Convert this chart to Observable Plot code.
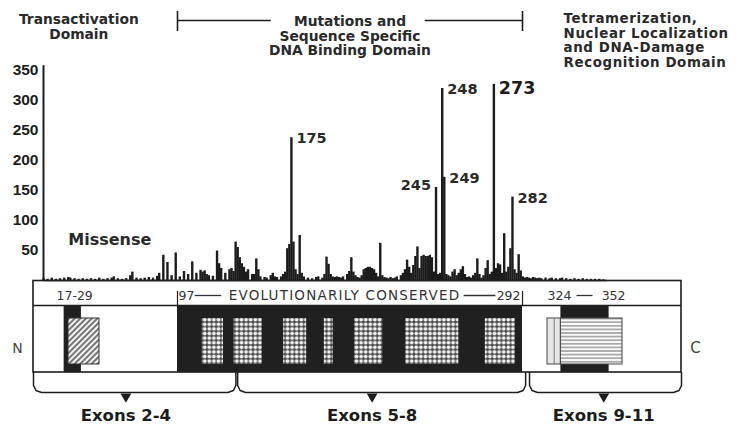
<!DOCTYPE html>
<html><head><meta charset="utf-8">
<script src="https://cdn.jsdelivr.net/npm/d3@7"></script>
<script src="https://cdn.jsdelivr.net/npm/@observablehq/plot@0.6"></script>
<style>
html,body{margin:0;padding:0;background:#fff;}
#chart{position:relative;width:738px;height:427px;overflow:hidden;}
#chart svg{position:absolute;left:0;top:0;}
</style></head><body><div id="chart"></div>
<script>
// ---------- DATA ----------
// missense mutations per codon: [codon, count]
const missense = [
[55,3],[57,2],[59,4],[61,2],[63,3],[65,4],[67,5],[68,4],[70,3],[72,2],[74,3],[76,2],[78,3],[80,2],[82,4],[84,2],[86,3],[88,4],[89,6],[91,3],[93,2],[95,3],
[97,8],[98,14],[100,4],[102,3],[104,4],[106,5],[108,4],[110,7],[111,12],[113,42],[115,30],[117,8],[119,46],[121,6],[123,15],[125,10],[127,31],[129,12],
[131,17],[132,14],[133,16],[134,10],[135,8],[137,7],[139,49],[140,28],[141,20],[143,12],[145,18],[146,20],[147,15],[148,64],[149,55],[150,38],[151,28],[152,22],[153,14],[154,18],
[156,10],[157,10],[158,36],[159,18],[160,6],[162,5],[163,4],[165,8],[166,12],[167,6],[168,5],[170,6],[171,10],[172,14],[173,53],[174,60],[175,238],[176,64],[177,18],[178,10],[179,75],
[180,12],[181,6],[183,4],[185,3],[187,5],[188,6],[190,4],[191,10],[192,39],[193,27],[194,10],[195,6],[196,5],[197,6],[198,5],[199,4],[200,6],[202,10],[203,15],[204,38],[205,14],
[206,8],[207,5],[208,4],[209,8],[210,18],[211,20],[212,22],[213,22],[214,20],[215,18],[216,12],[217,6],[218,62],[219,8],[220,5],[221,4],[222,3],[223,5],[224,3],[225,4],[226,6],
[228,8],[229,12],[230,18],[231,34],[232,22],[233,12],[234,25],[235,40],[236,56],[237,20],[238,40],[239,42],[240,40],[241,40],[242,42],[243,38],[244,14],[245,155],[246,10],[247,12],
[248,320],[249,172],[250,10],[251,8],[252,6],[253,14],[254,18],[255,8],[256,12],[257,18],[258,23],[259,10],[260,5],[261,6],[262,4],[263,8],[264,12],[265,36],[266,10],[267,4],[268,8],
[269,20],[270,33],[271,10],[272,14],[273,327],[274,20],[275,28],[276,26],[277,12],[278,78],[279,14],[280,22],[281,53],[282,139],[283,18],[284,12],[285,43],[286,16],[287,6],[288,4],
[289,5],[290,4],[291,3],[292,5],[293,4],[294,3],[295,4],[296,3],[298,4],[300,3],[301,4],[303,3],[305,3],[306,4],[308,3],[310,2],[312,3],[314,2],[316,3],[318,2],[320,2],[322,2],[324,2],[326,1]
];
const yTicks = [50, 100, 150, 200, 250, 300, 350];
const hotspotsRight = [175, 248, 249, 282];
const hotspotsLeft = [245];
const hotspotMajor = [273];

// protein domain diagram (codon ranges)
const protein = [{start: 1, end: 393}];
const conservedSpan = [{start: 97, end: 292}];
const conservedBlocks = [[111,123],[129,145],[157,170],[180,185],[197,213],[226,256],[271,288]];
const transactivation = [{start: 17, end: 29}];
const darkCores = [[15, 22], [329, 347]];
const tetramerEdge = [{start: 324, end: 329}];
const tetramerCore = [{start: 329, end: 352}];
const exonGroups = [
  {label: "Exons 2-4", start: 1, end: 130, tip: 52},
  {label: "Exons 5-8", start: 131, end: 296, tip: 207},
  {label: "Exons 9-11", start: 301, end: 393, tip: 345}
];
const rangeLabels = {tad: "17-29", cons: "EVOLUTIONARILY CONSERVED", c0: "97", c1: "292", t0: "324", t1: "352"};
const domainTitles = {
  tad: "Transactivation\nDomain",
  dbd: "Mutations and\nSequence Specific\nDNA Binding Domain",
  tet: "Tetramerization,\nNuclear Localization\nand DNA-Damage\nRecognition Domain"
};

// ---------- STYLE ----------
const INK = "#1c1c1c";
const FONT = "DejaVu Sans, sans-serif";
const countOf = new Map(missense);

// ---------- DIAGRAM (bottom layer) ----------
const xDiag = {type: "linear", domain: [1, 17, 29, 97, 292, 324, 352, 393], range: [33, 68, 99, 177, 522, 547, 622, 681]};
const xs = Plot.scale({x: xDiag});
const off = (c, px) => xs.invert(xs.apply(c) + px);
const Y = {boxTop: 280.5, divider: 305, bodyBottom: 372, blockTop: 318, blockBottom: 364, braceBottom: 392, labelRow: 295};

const bracePts = exonGroups.flatMap(g => [
  {g: g.label, x: g.start, y: Y.bodyBottom},
  {g: g.label, x: g.start, y: Y.braceBottom - 7},
  {g: g.label, x: off(g.start, 2.5), y: Y.braceBottom - 2},
  {g: g.label, x: off(g.start, 8), y: Y.braceBottom},
  {g: g.label, x: off(g.end, -8), y: Y.braceBottom},
  {g: g.label, x: off(g.end, -2.5), y: Y.braceBottom - 2},
  {g: g.label, x: g.end, y: Y.braceBottom - 7},
  {g: g.label, x: g.end, y: Y.bodyBottom}
]);

const diag = Plot.plot({
  width: 738, height: 427, margin: 0,
  style: {background: "white", fontFamily: FONT, color: INK},
  x: {...xDiag, axis: null},
  y: {domain: [0, 427], range: [0, 427], axis: null},
  marks: [
    // outer protein box
    Plot.rect(protein, {x1: "start", x2: "end", y1: Y.boxTop, y2: Y.bodyBottom, fill: "white", stroke: INK, strokeWidth: 1.6}),
    Plot.ruleY([Y.divider], {x1: protein[0].start, x2: protein[0].end, stroke: INK, strokeWidth: 1.4}),
    // conserved DNA-binding region
    Plot.rect(conservedSpan, {x1: "start", x2: "end", y1: Y.divider, y2: Y.bodyBottom, fill: "#202020"}),
    Plot.ruleX([conservedSpan[0].start, conservedSpan[0].end], {y1: Y.labelRow - 4, y2: Y.divider, stroke: INK, strokeWidth: 1.2}),
    Plot.rect(conservedBlocks, {x1: d => d[0], x2: d => d[1], y1: Y.blockTop, y2: Y.blockBottom, fill: "url(#checker)"}),
    // dark cores
    Plot.rect(darkCores, {x1: d => d[0], x2: d => d[1], y1: Y.divider, y2: Y.bodyBottom, fill: "#202020"}),
    // transactivation hatched block
    Plot.rect(transactivation, {x1: "start", x2: "end", y1: Y.blockTop, y2: Y.blockBottom, fill: "url(#hatch)", stroke: "#333", strokeWidth: 1}),
    // tetramerization block
    Plot.rect(tetramerEdge, {x1: "start", x2: "end", y1: Y.blockTop, y2: Y.blockBottom, fill: "#e6e6e6", stroke: "#444", strokeWidth: 1}),
    Plot.ruleX(tetramerEdge, {x: d => (d.start + d.end) / 2, y1: Y.blockTop, y2: Y.blockBottom, stroke: "#777", strokeWidth: 1}),
    Plot.rect(tetramerCore, {x1: "start", x2: "end", y1: Y.blockTop, y2: Y.blockBottom, fill: "url(#stripes)", stroke: "#444", strokeWidth: 1}),
    // range labels
    Plot.text([rangeLabels.tad], {x: transactivation[0].start, y: Y.labelRow, text: d => d, textAnchor: "start", dx: -12, fontSize: 12.5, fill: "#333"}),
    Plot.text([rangeLabels.c0], {x: conservedSpan[0].start, y: Y.labelRow, text: d => d, textAnchor: "start", dx: 1, fontSize: 12.5, fill: "#333"}),
    Plot.text([rangeLabels.c1], {x: conservedSpan[0].end, y: Y.labelRow, text: d => d, textAnchor: "end", dx: -2, fontSize: 12.5, fill: "#333"}),
    Plot.text([rangeLabels.cons], {x: 126, y: Y.labelRow, text: d => d, textAnchor: "start", fontSize: 13.5, fill: "#333"}),
    Plot.ruleY([Y.labelRow], {x1: 107, x2: 122, stroke: "#333", strokeWidth: 1.3}),
    Plot.ruleY([Y.labelRow], {x1: 259, x2: 277, stroke: "#333", strokeWidth: 1.3}),
    Plot.text([rangeLabels.t0], {x: tetramerEdge[0].start, y: Y.labelRow, text: d => d, textAnchor: "start", fontSize: 12.5, fill: "#333"}),
    Plot.text([rangeLabels.t1], {x: tetramerCore[0].end, y: Y.labelRow, text: d => d, textAnchor: "end", dx: 3, fontSize: 12.5, fill: "#333"}),
    Plot.ruleY([Y.labelRow], {x1: 335, x2: 341, stroke: "#333", strokeWidth: 1.3}),
    // N / C termini
    Plot.text(["N"], {x: protein[0].start, y: 348, text: d => d, dx: -16, fontSize: 14, fill: "#444"}),
    Plot.text(["C"], {x: protein[0].end, y: 348, text: d => d, dx: 14, fontSize: 15, fill: "#444"}),
    // exon braces
    Plot.line(bracePts, {x: "x", y: "y", z: "g", stroke: INK, strokeWidth: 1.5}),
    Plot.dot(exonGroups, {x: "tip", y: Y.braceBottom + 4, symbol: "triangle", rotate: 180, r: 4, fill: INK}),
    Plot.text(exonGroups, {x: "tip", y: 415, text: "label", fontSize: 16.5, fontWeight: "bold", fill: INK}),
    // top domain titles
    Plot.text([domainTitles.tad], {x: 21, y: 26, text: d => d, fontSize: 13.8, fontWeight: "bold", lineHeight: 1.08, fill: "#2a2a2a"}),
    Plot.text([domainTitles.dbd], {x: 194.5, y: 35.5, text: d => d, fontSize: 13.8, fontWeight: "bold", lineHeight: 1.06, fill: "#2a2a2a"}),
    Plot.text([domainTitles.tet], {x: 330, y: 40, text: d => d, textAnchor: "start", fontSize: 13.4, fontWeight: "bold", lineHeight: 1.08, fill: "#2a2a2a"}),
    Plot.ruleY([20], {x1: conservedSpan[0].start, x2: 150, stroke: INK, strokeWidth: 1.3}),
    Plot.ruleY([20], {x1: 237, x2: conservedSpan[0].end, stroke: INK, strokeWidth: 1.3}),
    Plot.ruleX([conservedSpan[0].start, conservedSpan[0].end], {y1: 11, y2: 31, stroke: INK, strokeWidth: 1.6})
  ]
});

// letter spacing for wide-set labels
d3.select(diag).selectAll("text").each(function () {
  const t = this.textContent;
  if (t === rangeLabels.cons) this.style.letterSpacing = "1.2px";
  if (t.startsWith("Tetramerization")) this.style.letterSpacing = "0.6px";
});

// patterns
const defs = d3.select(diag).insert("defs", ":first-child");
const pc = defs.append("pattern").attr("id", "checker").attr("width", 4.6).attr("height", 4.6).attr("patternUnits", "userSpaceOnUse");
pc.append("rect").attr("width", 4.6).attr("height", 4.6).attr("fill", "#4a4a4a");
pc.append("circle").attr("cx", 2.3).attr("cy", 2.3).attr("r", 1.9).attr("fill", "#f0f0f0");
const ph = defs.append("pattern").attr("id", "hatch").attr("width", 4).attr("height", 4).attr("patternUnits", "userSpaceOnUse").attr("patternTransform", "rotate(45)");
ph.append("rect").attr("width", 4).attr("height", 4).attr("fill", "#f2f2f2");
ph.append("line").attr("x1", 2).attr("y1", 0).attr("x2", 2).attr("y2", 4).attr("stroke", "#333").attr("stroke-width", 1.3);
const ps = defs.append("pattern").attr("id", "stripes").attr("width", 4).attr("height", 3.6).attr("patternUnits", "userSpaceOnUse");
ps.append("rect").attr("width", 4).attr("height", 3.6).attr("fill", "#fafafa");
ps.append("line").attr("x1", 0).attr("y1", 1.8).attr("x2", 4).attr("y2", 1.8).attr("stroke", "#777").attr("stroke-width", 1.1);

// ---------- HISTOGRAM (top layer) ----------
const hist = Plot.plot({
  width: 738, height: 427, margin: 0,
  style: {background: "transparent", fontFamily: FONT, color: INK},
  x: {domain: [55, 328], range: [43, 607], axis: null},
  y: {domain: [0, 350], range: [280, 70], axis: null},
  marks: [
    Plot.ruleY([0], {x1: 55, x2: 328, stroke: INK, strokeWidth: 1.5}),
    Plot.ruleX(missense, {x: d => d[0], y1: 0, y2: d => d[1], stroke: INK, strokeWidth: 2.4}),
    Plot.ruleX([55], {y1: 0, y2: d3.max(yTicks) + 8, stroke: INK, strokeWidth: 2}),
    Plot.text(yTicks, {x: 55, y: d => d, text: d => `${d}`, textAnchor: "end", dx: -5, fontFamily: "Liberation Sans, Arial, sans-serif", fontWeight: "bold", fontSize: 15.5, fill: INK}),
    Plot.text(hotspotsRight, {x: d => d, y: d => countOf.get(d), text: d => `${d}`, textAnchor: "start", dx: 5, dy: 1, fontSize: 14.5, fontWeight: "bold", fill: "#2a2a2a"}),
    Plot.text(hotspotsLeft, {x: d => d, y: d => countOf.get(d), text: d => `${d}`, textAnchor: "end", dx: -5, dy: -2, fontSize: 14.5, fontWeight: "bold", fill: "#2a2a2a"}),
    Plot.text(hotspotMajor, {x: d => d, y: d => countOf.get(d), text: d => `${d}`, textAnchor: "start", dx: 5, dy: 4, fontSize: 17.5, fontWeight: "bold", fill: INK}),
    Plot.text(["Missense"], {x: 67, y: 67, text: d => d, textAnchor: "start", fontSize: 16, fontWeight: "bold", fill: "#2a2a2a"})
  ]
});

const el = document.getElementById("chart");
el.appendChild(diag);
el.appendChild(hist);
</script></body></html>
